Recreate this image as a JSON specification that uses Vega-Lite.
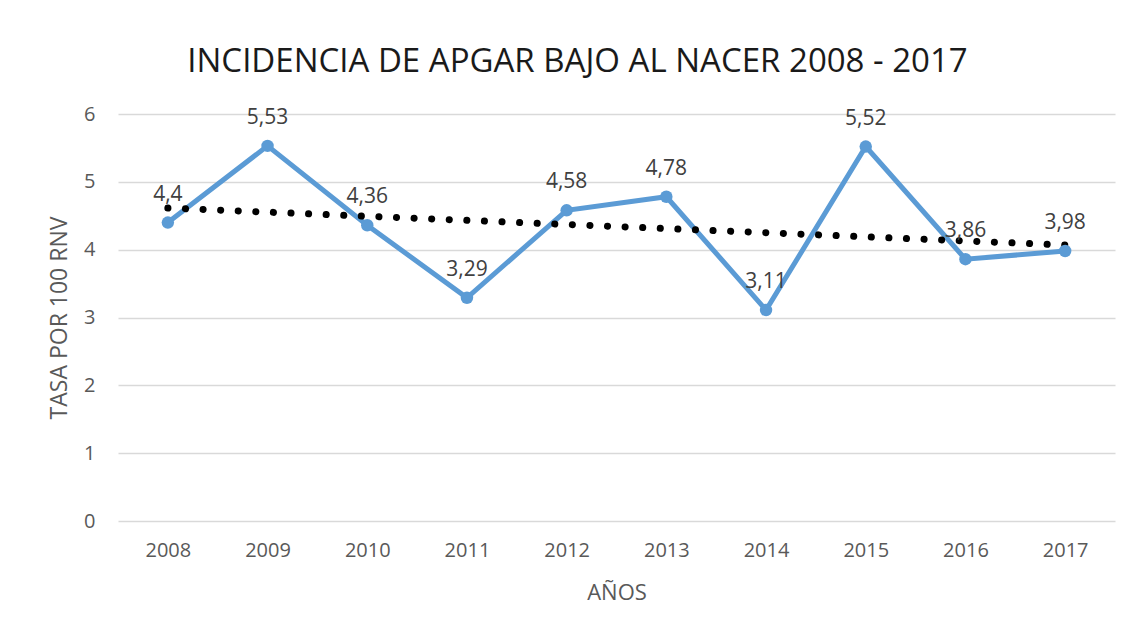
{
  "$schema": "https://vega.github.io/schema/vega-lite/v6.json",
  "width": 997,
  "height": 407,
  "autosize": {"type": "none"},
  "padding": {"left": 118, "top": 114, "right": 17, "bottom": 111},
  "background": "white",
  "title": {
    "text": "INCIDENCIA DE APGAR BAJO AL NACER 2008 - 2017",
    "font": "Open Sans",
    "fontSize": 33,
    "fontWeight": "normal",
    "color": "#1a1a1a",
    "anchor": "middle",
    "frame": "group",
    "dx": -39,
    "offset": -1,
    "baseline": "alphabetic"
  },
  "data": {
    "values": [
      {"year": 2008, "value": 4.4},
      {"year": 2009, "value": 5.53},
      {"year": 2010, "value": 4.36},
      {"year": 2011, "value": 3.29},
      {"year": 2012, "value": 4.58},
      {"year": 2013, "value": 4.78},
      {"year": 2014, "value": 3.11},
      {"year": 2015, "value": 5.52},
      {"year": 2016, "value": 3.86},
      {"year": 2017, "value": 3.98}
    ]
  },
  "encoding": {
    "x": {
      "field": "year",
      "type": "quantitative",
      "scale": {"domain": [2007.5, 2017.5], "nice": false, "zero": false},
      "axis": {
        "title": "AÑOS",
        "values": [2008, 2009, 2010, 2011, 2012, 2013, 2014, 2015, 2016, 2017],
        "format": "d",
        "grid": false,
        "ticks": false,
        "domain": false,
        "labelPadding": 19,
        "labelFont": "Open Sans",
        "labelFontSize": 20,
        "labelColor": "#595959",
        "titleFont": "Open Sans",
        "titleFontSize": 22,
        "titleFontWeight": "normal",
        "titleColor": "#595959",
        "titleY": 71,
        "titleBaseline": "middle"
      }
    },
    "y": {
      "field": "value",
      "type": "quantitative",
      "scale": {"domain": [0, 6], "nice": false},
      "axis": {
        "title": "TASA POR 100 RNV",
        "values": [0, 1, 2, 3, 4, 5, 6],
        "format": "d",
        "grid": true,
        "gridColor": "#D9D9D9",
        "gridWidth": 1.3,
        "ticks": false,
        "domain": false,
        "labelPadding": 23,
        "labelFont": "Open Sans",
        "labelFontSize": 20,
        "labelColor": "#595959",
        "titleFont": "Open Sans",
        "titleFontSize": 23,
        "titleFontWeight": "normal",
        "titleColor": "#595959",
        "titleAngle": -90,
        "titleX": -59,
        "titleY": 203.5,
        "titleAlign": "center",
        "titleBaseline": "middle"
      }
    }
  },
  "layer": [
    {
      "mark": {"type": "line", "color": "#5B9BD5", "strokeWidth": 5}
    },
    {
      "transform": [{"regression": "value", "on": "year", "method": "linear"}],
      "mark": {"type": "line", "color": "#000000", "strokeWidth": 7, "strokeDash": [0.1, 17.5], "strokeCap": "round"}
    },
    {
      "mark": {"type": "circle", "color": "#5B9BD5", "size": 155, "opacity": 1}
    },
    {
      "mark": {"type": "text", "baseline": "alphabetic", "dy": -22, "font": "Open Sans", "fontSize": 21, "color": "#404040"},
      "encoding": {"text": {"field": "value", "type": "quantitative", "format": ".3~r"}}
    }
  ],
  "config": {
    "view": {"stroke": null},
    "locale": {"number": {"decimal": ",", "thousands": ".", "grouping": [3], "currency": ["", " €"]}}
  }
}
